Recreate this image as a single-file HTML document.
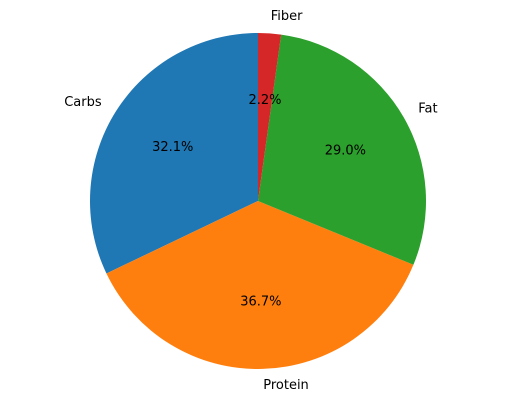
<!DOCTYPE html>
<html><head><meta charset="utf-8"><style>
html,body{margin:0;padding:0;background:#fff;}
svg{display:block;font-family:"DejaVu Sans","Liberation Sans",sans-serif;}
</style></head><body>
<svg id="chart" width="515" height="403" viewBox="0 0 515 403"></svg>
<script>
const categories = ["Carbs", "Protein", "Fat", "Fiber"];
const values = [32.1, 36.7, 29.0, 2.2];
const colors = ["#1f77b4", "#ff7f0e", "#2ca02c", "#d62728"];
const svg = document.getElementById('chart');
const NS = 'http://www.w3.org/2000/svg';
const cx = 258, cy = 201, r = 168;
const total = values.reduce((a, b) => a + b, 0);
function pt(deg, rad) {
  const a = deg * Math.PI / 180;
  return [cx + rad * Math.cos(a), cy - rad * Math.sin(a)];
}
let start = 90;
values.forEach((v, i) => {
  const sweep = v / total * 360;
  const end = start + sweep;
  const [x1, y1] = pt(start, r), [x2, y2] = pt(end, r);
  const large = sweep > 180 ? 1 : 0;
  const p = document.createElementNS(NS, 'path');
  p.setAttribute('d', `M${cx},${cy} L${x1},${y1} A${r},${r} 0 ${large} 0 ${x2},${y2} Z`);
  p.setAttribute('fill', colors[i]);
  
  
  svg.appendChild(p);
  const mid = (start + end) / 2;
  const [lx, ly] = pt(mid, r * 1.1);
  const t = document.createElementNS(NS, 'text');
  t.setAttribute('x', lx);
  t.setAttribute('y', ly);
  t.setAttribute('font-size', '13');
  t.setAttribute('dominant-baseline', 'central');
  t.setAttribute('text-anchor', lx > cx ? 'start' : 'end');
  t.textContent = categories[i];
  
  
  svg.appendChild(t);
  const [px, py] = pt(mid, r * 0.6);
  const pc = document.createElementNS(NS, 'text');
  pc.setAttribute('x', px);
  pc.setAttribute('y', py);
  pc.setAttribute('font-size', '13');
  pc.setAttribute('dominant-baseline', 'central');
  pc.setAttribute('text-anchor', 'middle');
  pc.textContent = (v / total * 100).toFixed(1) + '%';
  
  
  svg.appendChild(pc);
  start = end;
});
</script>
</body></html>
